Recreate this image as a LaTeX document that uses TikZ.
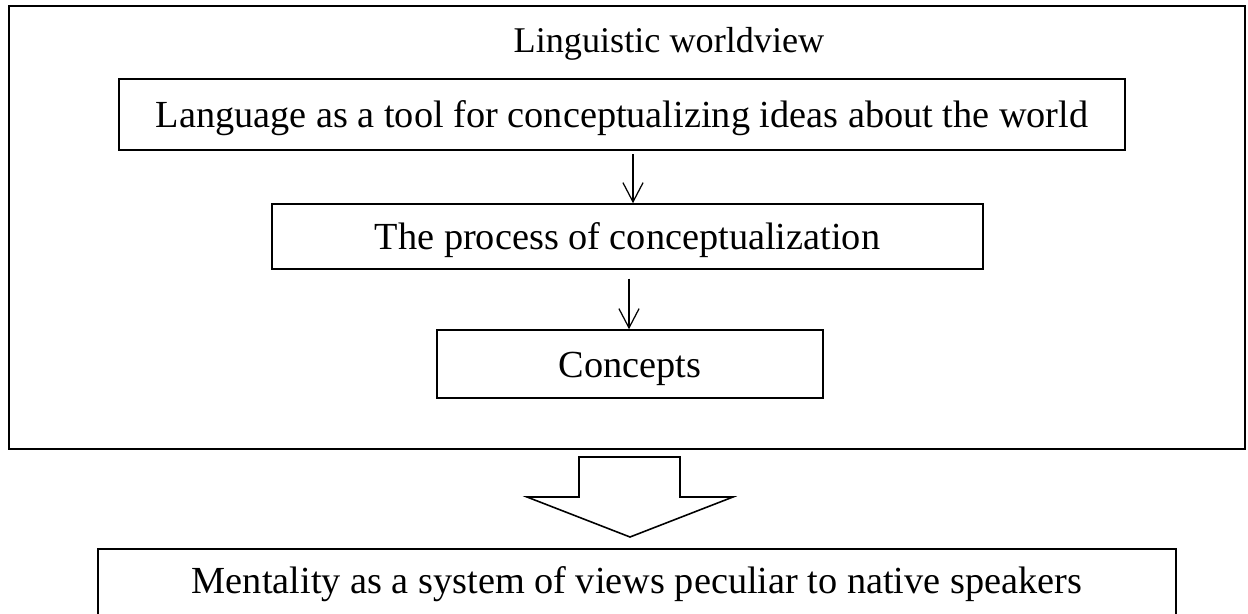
\documentclass[tikz,border=0pt]{standalone}
\usepackage{fontspec}
\setmainfont{Liberation Serif}
\usetikzlibrary{arrows.meta}

\begin{document}
\begin{tikzpicture}[x=0.02cm, y=-0.02cm,
    box/.style = {draw, line width=0.9pt, inner sep=0pt, text height=15pt, text depth=0pt,
                  font=\fontsize{21.8pt}{26pt}\selectfont},
    flow/.style = {line width=0.7pt, -{Straight Barb[length=11pt, width=11.5pt, line width=0.7pt]}}]
    \clip (0,0) rectangle (1248,613);
    \node[box, minimum width=24.72cm, minimum height=8.86cm] (frame) at (627,227.5) {};
    \node[anchor=base, font=\fontsize{20.6pt}{25pt}\selectfont] (title) at (669,52) {Linguistic worldview};
    \node[box, minimum width=20.12cm, minimum height=1.42cm] (lang) at (622,114.5) {Language as a tool for conceptualizing ideas about the world};
    \node[box, minimum width=14.22cm, minimum height=1.30cm] (proc) at (627.5,236.5) {The process of conceptualization};
    \node[box, minimum width=7.72cm, minimum height=1.36cm] (conc) at (630,364) {Concepts};
    \node[box, anchor=north, minimum width=21.56cm, inner ysep=10.5pt, text depth=6pt] (ment) at (637,548) {Mentality as a system of views peculiar to native speakers};
    \coordinate (a1) at (633,0);
    \coordinate (a2) at (629,0);
    \draw[flow] ([yshift=-2pt]lang.south -| a1) -- (proc.north -| a1);
    \draw[flow] ([yshift=-5pt]proc.south -| a2) -- (conc.north -| a2);
    % big arrow between the two parts
    \draw[line width=0.9pt] (579,457) -- (680,457) -- (680,497) -- (733,497) -- (630,537)
        -- (527,497) -- (579,497) -- cycle;
\end{tikzpicture}
\end{document}
